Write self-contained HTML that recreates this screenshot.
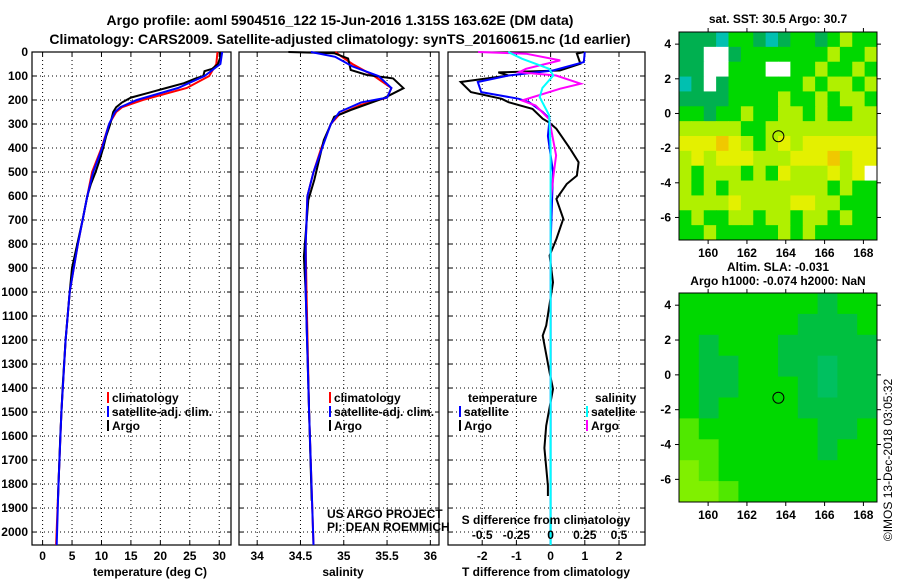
<!DOCTYPE html>
<html><head><meta charset="utf-8">
<style>
html,body{margin:0;padding:0;background:#fff;}
svg{display:block;font-family:"Liberation Sans",sans-serif;}
.b{font-weight:bold;font-size:12px;}
</style></head>
<body>
<svg id="c" width="900" height="580" xmlns="http://www.w3.org/2000/svg">
<text x="340" y="25" text-anchor="middle" font-size="14" font-weight="bold">Argo profile: aoml 5904516_122 15-Jun-2016 1.315S 163.62E (DM data)</text>
<text x="340" y="44" text-anchor="middle" font-size="14" font-weight="bold">Climatology: CARS2009. Satellite-adjusted climatology: synTS_20160615.nc (1d earlier)</text>
</svg>
<script>
// ---- data ----
const depthTicks=[0,100,200,300,400,500,600,700,800,900,1000,1100,1200,1300,1400,1500,1600,1700,1800,1900,2000];
const tempTicks=[0,5,10,15,20,25,30];
const salTicks=[34,34.5,35,35.5,36];
const tdTicks=[-2,-1,0,1,2];
const sdTicks=[-0.5,-0.25,0,0.25,0.5];
const sdTickLabels=["-0.5","-0.25","0","0.25","0.5"];
const lonTicks=[160,162,164,166,168];
const latTicks=[4,2,0,-2,-4,-6];

const argoTdepth=[0,20,50,70,80,100,110,130,150,170,190,210,230,250,300,350,400,450,500,550,600,700,800,900,1000,1200,1400,1600,1800,1870];
const argoT=[30.2,30.2,29.8,28.8,27.5,27.3,26,24,21,18,15,13.5,12.5,12,11.5,10.8,10.3,9.7,9,8.2,7.6,6.8,5.9,5.0,4.6,3.9,3.4,3.0,2.7,2.6];
const climTdepth=[0,50,100,150,200,230,250,300,400,500,600,700,800,1000,1200,1500,1800,2054];
const climT=[29.7,29.5,28.3,24.5,17,13.5,12.5,11.3,10,8.4,7.6,6.8,6.0,4.6,3.9,3.2,2.7,2.3];
const satTdepth=[0,50,100,150,200,230,250,300,400,500,600,700,800,1000,1200,1500,1800,2054];
const satT=[30.5,30.2,27.5,23,16,13.2,12.3,11.3,10.1,8.6,7.6,6.8,6.0,4.6,3.9,3.2,2.7,2.4];

const argoSdepth=[0,5,27,75,96,110,151,193,242,270,367,533,617,853,1000,1500,1870];
const argoS=[34.36,34.89,35.05,35.08,35.27,35.57,35.69,35.46,35.08,34.89,34.77,34.66,34.59,34.54,34.56,34.6,34.63];
const climSdepth=[0,50,100,150,190,220,260,300,400,500,600,800,1000,1500,2054];
const climS=[34.9,35.1,35.35,35.55,35.5,35.2,34.95,34.85,34.74,34.65,34.58,34.56,34.57,34.6,34.65];
const satSdepth=[0,20,60,100,150,190,210,250,300,400,500,600,800,1000,1500,2054];
const satS=[34.62,34.9,35.1,35.4,35.55,35.5,35.2,34.95,34.85,34.75,34.65,34.58,34.56,34.56,34.6,34.65];

const tdArgoDepth=[0,7,49,77,85,98,125,167,195,209,237,278,295,320,403,459,515,550,612,695,779,848,960,1140,1182,1335,1404,1557,1650,1807,1850];
const tdArgo=[0.97,0.77,0.87,0.27,-1.53,-1.23,-2.63,-2.33,-1.43,-1.23,-0.53,-0.23,-0.03,0.17,0.57,0.82,0.77,0.47,0.17,0.37,0.17,-0.03,0.07,-0.13,-0.23,-0.03,0.07,-0.13,-0.18,-0.08,-0.08];
const tdSatDepth=[0,42,77,98,125,167,195,209,250,278,350,500,800,1200,1500,2054];
const tdSat=[1.0,0.97,0.07,-1.23,-2.13,-2.03,-0.93,-0.63,-0.23,-0.03,-0.08,0.07,0,0,0,0];
const sdArgoDepth=[0,7,35,70,84,98,132,153,202,223,280,431,520,620,1100,1600];
const sdArgo=[-0.53,-0.18,0.07,-0.18,-0.23,0.04,0.22,0.07,-0.21,-0.11,-0.01,0.04,0.02,0,0,0];
const sdSatDepth=[0,28,70,98,150,188,264,400,1000,2054];
const sdSat=[-0.31,-0.21,-0.01,0.02,-0.06,-0.08,-0.01,0,0,0];

const sstGrid=[
[1,1,1,0,2,2,1,0,1,2,2,1,2,3,2,2],
[1,1,-1,-1,1,2,2,2,2,2,2,2,3,2,2,3],
[1,1,-1,-1,2,2,2,-1,-1,2,2,3,2,2,3,2],
[0,1,-1,1,2,2,2,2,2,2,3,2,3,3,2,3],
[1,1,1,1,2,2,2,2,3,2,2,3,2,3,3,2],
[2,2,1,2,2,3,2,2,3,3,2,3,2,2,3,3],
[3,3,3,3,3,2,2,3,3,3,3,3,3,3,3,3],
[4,4,4,5,4,3,2,3,4,3,4,4,4,4,4,4],
[3,4,3,4,4,4,3,3,3,4,4,4,5,3,4,4],
[3,2,3,3,3,2,3,2,4,3,3,3,4,3,4,-1],
[3,2,3,2,3,3,3,3,3,3,3,3,2,3,2,2],
[3,3,3,3,4,3,3,3,3,4,4,3,3,2,2,2],
[2,3,2,2,3,3,2,3,3,2,3,3,2,3,2,2],
[2,2,3,2,2,2,2,2,3,2,3,2,2,2,2,2]];
const slaGrid=[
[2,2,2,2,2,2,2,1,2,2],
[2,2,2,2,2,2,1,1,1,2],
[2,1,2,2,2,1,1,1,1,1],
[2,1,1,2,2,1,1,0,1,1],
[2,1,1,2,2,2,1,0,1,1],
[2,1,2,2,2,2,1,1,1,1],
[3,2,2,2,2,2,2,1,1,2],
[3,3,2,2,2,2,2,1,2,2],
[4,3,2,2,2,2,2,2,2,2],
[4,4,3,2,2,2,2,2,2,2]];
const floatLon=[163.62];
const floatLat=[-1.315];

// ---- drawing ----
const NS="http://www.w3.org/2000/svg";
const svg=document.getElementById('c');
function el(tag,attrs,parent){const e=document.createElementNS(NS,tag);for(const k in attrs)e.setAttribute(k,attrs[k]);(parent||svg).appendChild(e);return e;}
function txt(x,y,s,anchor,cls,parent){const t=el('text',{x:x,y:y,'text-anchor':anchor||'middle','class':cls||'b'},parent);t.textContent=s;return t;}

const Y0=52,Y1=545,D0=0,D1=2054;
const yD=d=>Y0+(d-D0)/(D1-D0)*(Y1-Y0);

function panel(name,x0,x1,v0,v1,ticks,labels,showY){
  const g=el('g',{});
  
  
  const xs=v=>x0+(v-v0)/(v1-v0)*(x1-x0);
  ticks.forEach(t=>{el('line',{x1:xs(t),x2:xs(t),y1:Y0,y2:Y1,stroke:'#000','stroke-width':1,'stroke-dasharray':'1,3'},g);
    el('line',{x1:xs(t),x2:xs(t),y1:Y1,y2:Y1-4,stroke:'#000'},g);el('line',{x1:xs(t),x2:xs(t),y1:Y0,y2:Y0+4,stroke:'#000'},g);});
  depthTicks.forEach(d=>{el('line',{x1:x0,x2:x1,y1:yD(d),y2:yD(d),stroke:'#000','stroke-dasharray':'1,3'},g);
    el('line',{x1:x0,x2:x0+4,y1:yD(d),y2:yD(d),stroke:'#000'},g);el('line',{x1:x1-4,x2:x1,y1:yD(d),y2:yD(d),stroke:'#000'},g);});
  if(labels) ticks.forEach((t,i)=>{const l=txt(xs(t),560,labels[i]);});
  if(showY) depthTicks.forEach(d=>{const l=txt(28,yD(d)+4,String(d),'end');});
  el('rect',{x:x0,y:Y0,width:x1-x0,height:Y1-Y0,fill:'none',stroke:'#000','stroke-width':1.2},g);
  return {g,xs};
}
function line(p,vals,depths,color,name,w){
  const pts=vals.map((v,i)=>p.xs(v).toFixed(1)+','+yD(depths[i]).toFixed(1)).join(' ');
  const l=el('polyline',{points:pts,fill:'none',stroke:color,'stroke-width':w||2},p.g);
  
  
}

// panel 1 temperature
const p1=panel('temperature-panel',32,231,-1.8,32,tempTicks,tempTicks.map(String),true);
line(p1,climT,climTdepth,'#f00','climatology-temperature-line');
line(p1,argoT,argoTdepth,'#000','argo-temperature-line');
line(p1,satT,satTdepth,'#00f','satellite-temperature-line');
let t=txt(150,576,'temperature (deg C)');

// panel 2 salinity
const p2=panel('salinity-panel',239,439,33.79,36.1,salTicks,salTicks.map(String),false);
line(p2,climS,climSdepth,'#f00','climatology-salinity-line');
line(p2,argoS,argoSdepth,'#000','argo-salinity-line');
line(p2,satS,satSdepth,'#00f','satellite-salinity-line');
t=txt(343,576,'salinity');
t=txt(327,518,'US ARGO PROJECT','start','');t.setAttribute('font-size','11');
t=txt(327,531,'PI: DEAN ROEMMICH','start','');t.setAttribute('font-size','11');

// panel 3 differences (S plotted on T axis, S*4)
const p3=panel('difference-panel',448,645,-3,2.76,tdTicks,tdTicks.map(String),false);
const p3s={g:p3.g,xs:v=>p3.xs(v*4)};
line(p3,tdArgo,tdArgoDepth,'#000','argo-temperature-difference-line');
line(p3,tdSat,tdSatDepth,'#00f','satellite-temperature-difference-line');
line(p3s,sdArgo,sdArgoDepth,'#f0f','argo-salinity-difference-line');
line(p3s,sdSat,sdSatDepth,'#0ff','satellite-salinity-difference-line');
t=txt(546,524,'S difference from climatology');
sdTicks.forEach((s,i)=>{const l=txt(p3s.xs(s),539,sdTickLabels[i]);});
t=txt(546,576,'T difference from climatology');

// legends
function legend(x,y,color,label,name){
  const g=el('g',{});
  
  
  el('line',{x1:x,x2:x,y1:y-10,y2:y+1,stroke:color,'stroke-width':2},g);
  txt(x+4,y,label,'start','b',g);
}
legend(108,402,'#f00','climatology','legend-climatology');
legend(108,416,'#00f','satellite-adj. clim.','legend-satellite-adj');
legend(108,430,'#000','Argo','legend-argo');
legend(330,402,'#f00','climatology','legend-climatology-salinity');
legend(330,416,'#00f','satellite-adj. clim.','legend-satellite-adj-salinity');
legend(330,430,'#000','Argo','legend-argo-salinity');
t=txt(468,402,'temperature','start');
legend(460,416,'#00f','satellite','legend-temperature-satellite');
legend(460,430,'#000','Argo','legend-temperature-argo');
t=txt(595,402,'salinity','start');
legend(587,416,'#0ff','satellite','legend-salinity-satellite');
legend(587,430,'#f0f','Argo','legend-salinity-argo');

// maps
const sstColors={'-1':'#fff','0':'#00c0b0','1':'#00b050','2':'#00d800','3':'#b0f000','4':'#e4f000','5':'#f0c800'};
const slaColors={'0':'#00c060','1':'#00c040','2':'#00d800','3':'#50e800','4':'#80f000'};
function map(name,y0,y1,grid,colors,title1,title2){
  const x0=679,x1=877,L0=158.5,L1=168.7;
  const latTop=4.7,latBot=-7.3;
  const g=el('g',{});
  
  
  const xs=v=>x0+(v-L0)/(L1-L0)*(x1-x0);
  const ys=v=>y0+(latTop-v)/(latTop-latBot)*(y1-y0);
  const nr=grid.length,nc=grid[0].length;
  const cw=(L1-L0)/nc,ch=(latTop-latBot)/nr;
  grid.forEach((row,r)=>row.forEach((v,c)=>{
    const cx=xs(L0+c*cw),cy=ys(latTop-r*ch);
    const cell=el('rect',{x:cx,y:cy,width:xs(L0+(c+1)*cw)-cx+0.5,height:ys(latTop-(r+1)*ch)-cy+0.5,fill:colors[String(v)]},g);
    
    
  }));
  el('rect',{x:x0,y:y0,width:x1-x0,height:y1-y0,fill:'none',stroke:'#000'},g);
  lonTicks.forEach(l=>{el('line',{x1:xs(l),x2:xs(l),y1:y1,y2:y1+4,stroke:'#000'},g);el('line',{x1:xs(l),x2:xs(l),y1:y0,y2:y0-4,stroke:'#000'},g);
    txt(xs(l),y1+17,String(l),'middle','b',g);});
  latTicks.forEach(l=>{el('line',{x1:x0-4,x2:x0,y1:ys(l),y2:ys(l),stroke:'#000'},g);el('line',{x1:x1,x2:x1+4,y1:ys(l),y2:ys(l),stroke:'#000'},g);
    txt(x0-8,ys(l)+4,String(l),'end','b',g);});
  const m=el('circle',{cx:xs(floatLon[0]),cy:ys(floatLat[0]),r:5.5,fill:'none',stroke:'#000','stroke-width':1},g);
  
  
  if(title1) txt(778,y0-(title2?22:9),title1,'middle','b',g);
  if(title2) txt(778,y0-8,title2,'middle','b',g);
}
map('sst-map',32,240,sstGrid,sstColors,'sat. SST: 30.5 Argo: 30.7',null);
map('sla-map',293,502,slaGrid,slaColors,'Altim. SLA: -0.031','Argo h1000: -0.074 h2000: NaN');

t=el('text',{x:0,y:0,transform:'translate(892,460) rotate(-90)','text-anchor':'middle','font-size':'12'});
t.textContent='©IMOS 13-Dec-2018 03:05:32';


</script>
</body></html>
